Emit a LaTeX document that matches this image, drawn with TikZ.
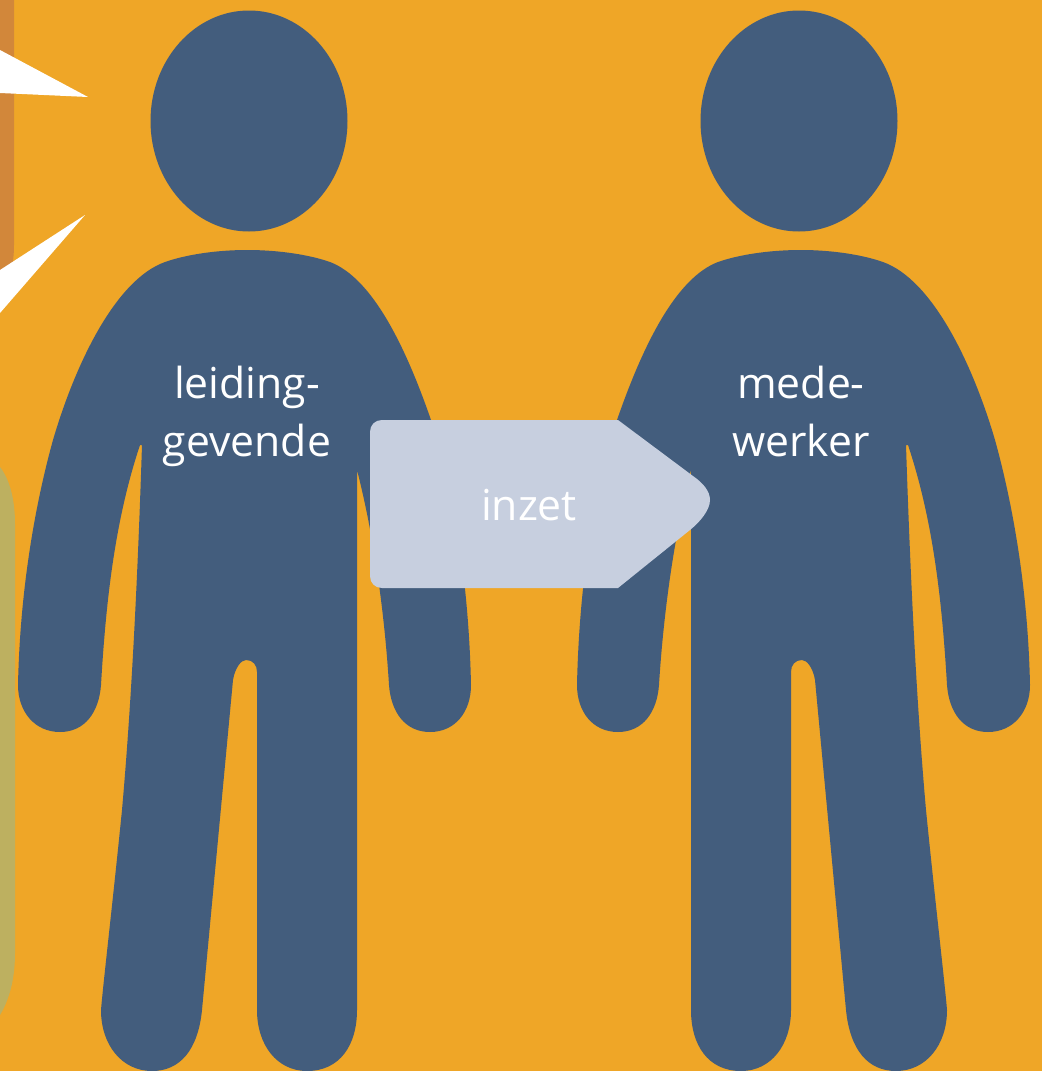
\documentclass[tikz,border=0pt]{standalone}
\usepackage{fontspec}
\setmainfont{Open Sans}
\definecolor{bgc}{HTML}{EFA627}
\definecolor{figc}{HTML}{435D7D}
\definecolor{arrc}{HTML}{C7CFDF}
\definecolor{brownc}{HTML}{D2873A}
\definecolor{olivec}{HTML}{BDB060}
\newcommand{\personpath}{
  (247,250) .. controls (215,250) and (185,255) .. (165,262)
  .. controls (115,280) and (75,365) .. (53,440)
  .. controls (35,505) and (20,590) .. (18,685)
  .. controls (18,712) and (35,732) .. (60,732)
  .. controls (85,732) and (99,712) .. (101,685)
  .. controls (106,600) and (115,520) .. (140,445)
  -- (142,445)
  .. controls (137,600) and (130,720) .. (122,810)
  .. controls (113,900) and (103,985) .. (101,1010)
  .. controls (101,1045) and (122,1071) .. (152,1071)
  .. controls (180,1071) and (198,1050) .. (202,1010)
  -- (233,680)
  .. controls (235,668) and (241,660) .. (246,660)
  .. controls (253,660) and (257,665) .. (257,672)
  -- (257,1010)
  .. controls (257,1045) and (277,1071) .. (307,1071)
  .. controls (340,1071) and (357,1045) .. (357,1010)
  -- (357,470)
  .. controls (375,540) and (385,620) .. (389,685)
  .. controls (391,712) and (405,732) .. (430,732)
  .. controls (455,732) and (471,712) .. (471,685)
  .. controls (469,590) and (455,490) .. (431,420)
  .. controls (405,345) and (372,278) .. (330,262)
  .. controls (310,255) and (280,250) .. (247,250) -- cycle
}
\tikzset{
  figshape/.style={fill=figc,draw=none},
  lbl/.style={text=white,font=\fontsize{32}{43.5}\selectfont,align=center,inner sep=0pt,anchor=center},
  wedge/.style={fill=white,draw=none}
}
\begin{document}
\begin{tikzpicture}[x=0.75pt,y=-0.75pt]
\useasboundingbox (0,0) rectangle (1042,1071);
\fill[bgc] (0,0) rectangle (1042,1071);
% side panels
\fill[brownc] (0,0) -- (14,0) -- (14,245) .. controls (14,255) and (13,262) .. (11,272) -- (0,272) -- cycle;
\fill[olivec] (0,467) .. controls (10,480) and (15,500) .. (15,524) -- (15,953) .. controls (15,980) and (9,1000) .. (0,1015) -- cycle;
% white wedges
\fill[wedge] (0,50) -- (88,97) -- (0,93) -- cycle;
\fill[wedge] (85,215) -- (0,270) -- (0,313) -- cycle;
% figures
\fill[figshape] (249,121) ellipse [x radius=98.5, y radius=110.5];
\fill[figshape] (799,121) ellipse [x radius=98.5, y radius=110.5];
\fill[figshape] \personpath;
\begin{scope}[xshift=786pt,xscale=-1]
\fill[figshape] \personpath;
\end{scope}
% arrow
\fill[arrc] (382,420) -- (618,420) -- (693,476)
  .. controls (703,483) and (710,491) .. (710,500)
  .. controls (710,510) and (700,522) .. (690,530)
  -- (618,588) -- (382,588)
  .. controls (375,588) and (370,583) .. (370,576)
  -- (370,432) .. controls (370,425) and (375,420) .. (382,420) -- cycle;
% labels
\node[lbl] (leiding) at (247,415.4) {\strut leiding-\\\strut gevende};
\node[lbl] (mede) at (801,416) {\strut mede-\\\strut werker};
\node[lbl] (inzet) at (529,509) {\strut inzet};
\end{tikzpicture}
\end{document}
